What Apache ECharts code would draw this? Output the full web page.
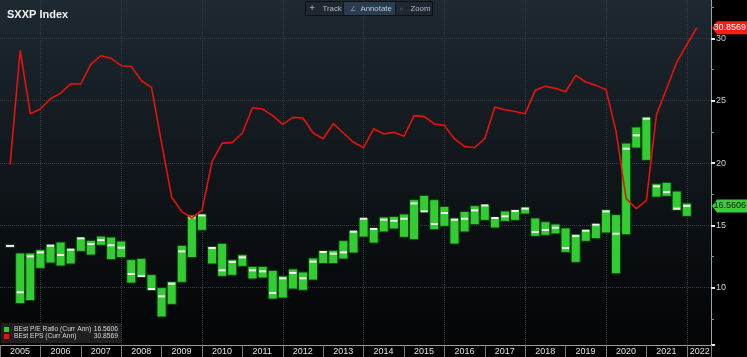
<!DOCTYPE html>
<html><head><meta charset="utf-8">
<script src="https://cdn.jsdelivr.net/npm/echarts@6/dist/echarts.min.js"></script>
<style>html,body{margin:0;padding:0;background:#000;}#c{width:747px;height:357px;}</style>
</head><body><div id="c"></div><script>
// Quarter-end periods
const quarters = [
 '2005Q1','2005Q2','2005Q3','2005Q4','2006Q1','2006Q2','2006Q3','2006Q4',
 '2007Q1','2007Q2','2007Q3','2007Q4','2008Q1','2008Q2','2008Q3','2008Q4',
 '2009Q1','2009Q2','2009Q3','2009Q4','2010Q1','2010Q2','2010Q3','2010Q4',
 '2011Q1','2011Q2','2011Q3','2011Q4','2012Q1','2012Q2','2012Q3','2012Q4',
 '2013Q1','2013Q2','2013Q3','2013Q4','2014Q1','2014Q2','2014Q3','2014Q4',
 '2015Q1','2015Q2','2015Q3','2015Q4','2016Q1','2016Q2','2016Q3','2016Q4',
 '2017Q1','2017Q2','2017Q3','2017Q4','2018Q1','2018Q2','2018Q3','2018Q4',
 '2019Q1','2019Q2','2019Q3','2019Q4','2020Q1','2020Q2','2020Q3','2020Q4',
 '2021Q1','2021Q2','2021Q3','2021Q4','2022Q1'
];
// BEst P/E Ratio (Curr Ann): quarterly low, high, last
const peLow = [
 13.35, 8.72, 8.96,11.55, 11.98,11.74,11.90,12.91, 12.62,13.40,12.25,12.41,
 10.37,10.83, 9.76, 7.65,  8.66,10.43,12.41,14.60, 11.90,10.91,10.99,11.71,
 10.70,10.78, 9.09, 9.17,  9.89, 9.79,10.61,11.93, 11.93,12.30,12.78,14.06,
 13.58,14.47,14.71,14.04, 13.85,16.07,14.65,14.92, 13.50,14.47,15.05,15.40,
 14.79,15.32,15.40,15.91, 14.12,14.20,14.31,12.83, 12.03,13.72,13.93,14.39,
 11.12,14.25,21.20,20.21, 17.27,17.33,16.20,15.72
];
const peHigh = [
 13.35,12.78,12.78,13.05, 13.48,13.66,13.13,14.04, 13.80,14.14,14.06,13.74,
 12.25,12.35,11.04,10.00, 10.48,13.40,15.83,15.88, 13.32,13.56,12.25,12.65,
 11.71,11.71,11.39,10.94, 11.50,11.26,12.38,12.97, 13.00,13.77,14.60,15.59,
 14.79,15.67,15.72,15.91, 17.06,17.41,17.06,16.52, 15.59,16.12,16.58,16.66,
 15.67,16.15,16.26,16.47, 15.59,15.29,15.11,14.79, 14.30,14.65,15.13,16.26,
 15.86,21.60,22.89,23.69, 18.34,18.45,17.75,16.79
];
const peClose = [
 13.35, 9.63,12.51,12.83, 13.37,12.62,13.05,13.96, 13.50,13.82,13.40,13.21,
 11.10,10.94, 9.89, 9.30, 10.32,12.91,15.64,15.80, 13.18,11.39,12.06,12.43,
 11.39,11.31, 9.57,10.75, 11.18,10.75,12.09,12.86, 12.73,12.83,14.49,15.53,
 14.71,15.45,15.37,15.53, 16.76,16.12,15.11,15.99, 15.45,15.53,16.20,16.60,
 15.59,15.72,16.15,16.34, 14.47,14.63,14.81,13.18, 14.14,14.57,15.05,16.12,
 14.33,21.15,22.22,23.56, 18.13,17.67,16.34,16.5606
];
// BEst EPS (Curr Ann)
const eps = [
 19.87,29.04,23.96,24.33, 25.16,25.61,26.36,26.34, 27.94,28.61,28.40,27.81,
 27.75,26.60,26.07,21.60, 17.25,16.10,15.59,16.20, 20.13,21.60,21.66,22.41,
 24.44,24.33,23.80,23.10, 23.66,23.61,22.41,21.95, 23.16,22.41,21.66,21.23,
 22.75,22.33,22.46,22.14, 23.80,23.74,23.13,23.02, 21.93,21.34,21.23,21.95,
 24.49,24.28,24.14,23.96, 25.83,26.15,25.99,25.72, 27.03,26.50,26.23,25.88,
 22.54,17.14,16.34,17.01, 23.88,25.96,28.07,29.49, 30.8569
];
const yearLabels = ['2005','2006','2007','2008','2009','2010','2011','2012','2013',
 '2014','2015','2016','2017','2018','2019','2020','2021','2022'];
const yTickLabels = ['10','15','20','25','30'];
const seriesNames = ['BEst P/E Ratio (Curr Ann)', 'BEst EPS (Curr Ann)'];

const FONT = '"Liberation Sans",Arial,sans-serif';
const GREEN = '#33cc33', RED = '#e8120c';
const qx = s => +s.slice(0, 4) + (+s.slice(5)) / 4;

const peData = peClose.map((c, i) => [qx(quarters[i]), peLow[i], peHigh[i], c]);
const epsData = eps.map((v, i) => [qx(quarters[i]), v]);
const peLast = peClose[peClose.length - 1];
const epsLast = eps[eps.length - 1];
const lastVal = { [seriesNames[0]]: peLast.toFixed(4), [seriesNames[1]]: epsLast.toFixed(4) };

const chart = echarts.init(document.getElementById('c'), null, { renderer: 'canvas' });
chart.setOption({
  animation: false,
  backgroundColor: '#000',
  color: [GREEN, RED],
  title: { text: 'SXXP Index', left: 2, top: 4,
    textStyle: { color: '#f2f2f2', fontSize: 11, fontWeight: 'bold', fontFamily: FONT } },
  grid: { left: 0, right: 36, top: -4, bottom: 12, outerBoundsMode: 'none', containLabel: false,
    show: true, borderWidth: 0,
    backgroundColor: { type: 'linear', x: 0, y: 0, x2: 0, y2: 1,
      colorStops: [{ offset: 0, color: '#1e2932' }, { offset: 0.5, color: '#10161b' }, { offset: 1, color: '#030405' }] } },
  legend: {
    data: seriesNames, orient: 'vertical', left: 1, bottom: 14,
    backgroundColor: 'rgba(36,36,36,0.85)', padding: [3, 3, 3, 3], itemGap: 0,
    itemWidth: 5, itemHeight: 5, icon: 'rect',
    formatter: n => `{n|${n}}{v|${lastVal[n]}}`,
    textStyle: { color: '#d8d8d8', fontFamily: FONT, fontSize: 6.7,
      rich: { n: { width: 80, fontSize: 6.7, lineHeight: 7, fontFamily: FONT, color: '#d8d8d8' },
              v: { width: 24, align: 'right', fontSize: 6.7, lineHeight: 7, fontFamily: FONT, color: '#d8d8d8' } } }
  },
  xAxis: {
    type: 'value', min: 2005, max: 2022.6, interval: 1,
    axisLine: { show: true, lineStyle: { color: '#9a9a9a', width: 1 } },
    axisTick: { show: true, length: 12, lineStyle: { color: '#7a7a7a' } },
    splitLine: { show: true, lineStyle: { color: ['rgba(0,0,0,0)', '#363c43'], type: 'dotted' } },
    axisLabel: {
      margin: 1, color: '#e0e0e0', fontFamily: FONT, fontSize: 9, align: 'left',
      showMinLabel: true, showMaxLabel: true,
      formatter: v => {
        const s = String(v);
        if (!yearLabels.includes(s)) return '';
        return s === yearLabels[yearLabels.length - 1] ? `{z|${s}}` : `{y|${s}}`;
      },
      rich: {
        y: { padding: [0, 0, 0, 10], fontSize: 9, fontFamily: FONT, color: '#e0e0e0', lineHeight: 12 },
        z: { padding: [0, 0, 0, 3], fontSize: 9, fontFamily: FONT, color: '#e0e0e0', lineHeight: 12 }
      }
    }
  },
  yAxis: {
    type: 'value', position: 'right', min: 5.4, max: 33.4,
    axisLine: { show: true, lineStyle: { color: '#a0a0a0', width: 1 } },
    axisTick: { show: true, length: 4, lineStyle: { color: '#e8e8e8', width: 2 } },
    minorTick: { show: true, splitNumber: 2, length: 3, lineStyle: { color: '#8a8a8a' } },
    splitLine: { show: true, lineStyle: { color: '#363c43', type: 'dotted' } },
    axisLabel: { margin: 5, color: '#d0d0d0', fontFamily: FONT, fontSize: 9,
      showMinLabel: false, showMaxLabel: false,
      formatter: v => yTickLabels.includes(String(v)) ? String(v) : '' }
  },
  series: [
    {
      name: seriesNames[0], type: 'custom', data: peData, encode: { x: 0, y: [1, 2, 3] },
      itemStyle: { color: GREEN }, z: 2,
      renderItem: (params, api) => {
        const x = api.value(0);
        const lo = api.coord([x, api.value(1)]);
        const hi = api.coord([x, api.value(2)]);
        const cl = api.coord([x, api.value(3)]);
        const w = api.size([0.25, 0])[0] * 0.9;
        const h = lo[1] - hi[1];
        const kids = [];
        if (h >= 1) {
          kids.push({ type: 'rect', shape: { x: hi[0] - w / 2, y: hi[1], width: w, height: h },
            style: { fill: GREEN, stroke: '#0d3a0d', lineWidth: 1 } });
          kids.push({ type: 'rect', shape: { x: cl[0] - w / 2 + 1, y: cl[1] - 1, width: w - 2, height: 2 },
            style: { fill: '#f4f4f4' } });
        } else {
          kids.push({ type: 'rect', shape: { x: cl[0] - w / 2, y: cl[1] - 1.5, width: w, height: 3 },
            style: { fill: '#f4f4f4', stroke: '#222', lineWidth: 1 } });
        }
        return { type: 'group', children: kids };
      }
    },
    {
      name: seriesNames[1], type: 'line', data: epsData, showSymbol: false, symbol: 'none',
      lineStyle: { color: RED, width: 1.6 }, itemStyle: { color: RED }, z: 3
    },
    {
      name: 'tags', type: 'custom', clip: false, z: 5, silent: true,
      data: [[2022.6, peLast, 0], [2022.6, epsLast, 1]], encode: { x: 0, y: 1 },
      renderItem: (params, api) => {
        const p = api.coord([api.value(0), api.value(1)]);
        const x0 = p[0] + 1, y = p[1];
        const isEps = api.value(2) === 1;
        return { type: 'group', children: [
          { type: 'polygon', shape: { points: [[x0, y], [x0 + 5, y - 6.5], [x0 + 36, y - 6.5], [x0 + 36, y + 6.5], [x0 + 5, y + 6.5]] },
            style: { fill: isEps ? '#ff1a12' : '#3ccc3c' } },
          { type: 'text', x: x0 + 34, y: y,
            style: { text: api.value(1).toFixed(4), fill: isEps ? '#ffffff' : '#0a1f0a',
              font: '9px ' + FONT, align: 'right', verticalAlign: 'middle' } }
        ] };
      }
    }
  ],
  graphic: [
    { type: 'group', left: 305, top: 0, children: [
      { type: 'rect', shape: { x: 0, y: -1, width: 127, height: 14 }, style: { fill: '#1f2831', stroke: '#0c1014', lineWidth: 1 } },
      { type: 'rect', shape: { x: 38, y: -0.5, width: 52, height: 13 }, style: { fill: '#2a3c4f' } },
      { type: 'line', shape: { x1: 38, y1: 0, x2: 38, y2: 13 }, style: { stroke: '#10151a' } },
      { type: 'line', shape: { x1: 90, y1: 0, x2: 90, y2: 13 }, style: { stroke: '#10151a' } },
      { type: 'text', x: 4, y: 6.5, style: { text: '+', fill: '#8c959e', font: 'bold 9px ' + FONT, verticalAlign: 'middle' } },
      { type: 'text', x: 17, y: 6.5, style: { text: 'Track', fill: '#b0bac4', font: '7.8px ' + FONT, verticalAlign: 'middle' } },
      { type: 'text', x: 44, y: 6.5, style: { text: '∠', fill: '#8c959e', font: '7px ' + FONT, verticalAlign: 'middle' } },
      { type: 'text', x: 55, y: 6.5, style: { text: 'Annotate', fill: '#c0c8d0', font: '7.8px ' + FONT, verticalAlign: 'middle' } },
      { type: 'text', x: 94, y: 6.5, style: { text: '○', fill: '#8c959e', font: '6px ' + FONT, verticalAlign: 'middle' } },
      { type: 'text', x: 105, y: 6.5, style: { text: 'Zoom', fill: '#b0bac4', font: '7.8px ' + FONT, verticalAlign: 'middle' } }
    ] }
  ]
});
</script></body></html>
